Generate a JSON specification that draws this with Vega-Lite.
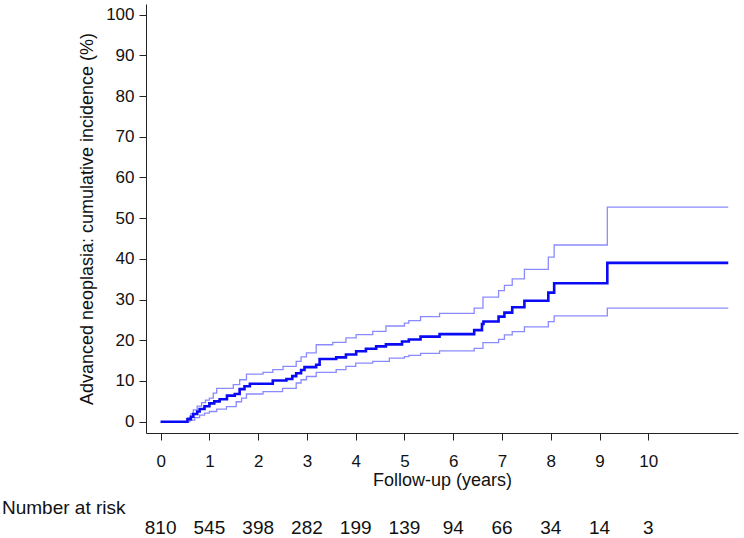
{
  "$schema": "https://vega.github.io/schema/vega-lite/v6.json",
  "padding": {"left": 2, "top": 4, "right": 6, "bottom": 0},
  "spacing": 10,
  "config": {
    "font": "Liberation Sans",
    "view": {"stroke": null},
    "axis": {"grid": false, "domainColor": "#222", "tickColor": "#222", "labelColor": "#111", "titleColor": "#111", "labelFont": "Liberation Sans", "titleFont": "Liberation Sans", "titleFontWeight": "normal"}
  },
  "datasets": {
    "curves": [
      {"t": 0, "series": "Estimate", "value": 0},
      {"t": 0.55, "series": "Estimate", "value": 0.6},
      {"t": 0.62, "series": "Estimate", "value": 1.2},
      {"t": 0.67, "series": "Estimate", "value": 1.9},
      {"t": 0.75, "series": "Estimate", "value": 2.5},
      {"t": 0.8, "series": "Estimate", "value": 3.1},
      {"t": 0.9, "series": "Estimate", "value": 3.8},
      {"t": 1.0, "series": "Estimate", "value": 4.5},
      {"t": 1.1, "series": "Estimate", "value": 5.0},
      {"t": 1.21, "series": "Estimate", "value": 5.5},
      {"t": 1.36, "series": "Estimate", "value": 6.4},
      {"t": 1.52, "series": "Estimate", "value": 6.8},
      {"t": 1.62, "series": "Estimate", "value": 8.0},
      {"t": 1.72, "series": "Estimate", "value": 8.7},
      {"t": 1.83, "series": "Estimate", "value": 9.3},
      {"t": 2.3, "series": "Estimate", "value": 10.1},
      {"t": 2.58, "series": "Estimate", "value": 10.5},
      {"t": 2.7, "series": "Estimate", "value": 11.2},
      {"t": 2.78, "series": "Estimate", "value": 11.9},
      {"t": 2.88, "series": "Estimate", "value": 12.7},
      {"t": 2.95, "series": "Estimate", "value": 13.4},
      {"t": 3.19, "series": "Estimate", "value": 14.0},
      {"t": 3.26, "series": "Estimate", "value": 15.4},
      {"t": 3.6, "series": "Estimate", "value": 15.8},
      {"t": 3.8, "series": "Estimate", "value": 16.5},
      {"t": 4.01, "series": "Estimate", "value": 17.3},
      {"t": 4.21, "series": "Estimate", "value": 17.9},
      {"t": 4.42, "series": "Estimate", "value": 18.5},
      {"t": 4.62, "series": "Estimate", "value": 19.0},
      {"t": 4.95, "series": "Estimate", "value": 19.7},
      {"t": 5.09, "series": "Estimate", "value": 20.2},
      {"t": 5.33, "series": "Estimate", "value": 20.9},
      {"t": 5.72, "series": "Estimate", "value": 21.5},
      {"t": 6.43, "series": "Estimate", "value": 22.5},
      {"t": 6.59, "series": "Estimate", "value": 24.0},
      {"t": 6.62, "series": "Estimate", "value": 24.6},
      {"t": 6.93, "series": "Estimate", "value": 25.8},
      {"t": 7.05, "series": "Estimate", "value": 26.8},
      {"t": 7.21, "series": "Estimate", "value": 28.1},
      {"t": 7.46, "series": "Estimate", "value": 29.7},
      {"t": 7.95, "series": "Estimate", "value": 31.7},
      {"t": 8.07, "series": "Estimate", "value": 34.0},
      {"t": 9.16, "series": "Estimate", "value": 39.0},
      {"t": 11.64, "series": "Estimate", "value": 39.0},
      {"t": 0, "series": "Upper", "value": 0},
      {"t": 0.55, "series": "Upper", "value": 1.0},
      {"t": 0.62, "series": "Upper", "value": 2.0},
      {"t": 0.67, "series": "Upper", "value": 2.9},
      {"t": 0.75, "series": "Upper", "value": 3.8},
      {"t": 0.84, "series": "Upper", "value": 4.7},
      {"t": 0.92, "series": "Upper", "value": 5.3},
      {"t": 1.0, "series": "Upper", "value": 5.8},
      {"t": 1.08, "series": "Upper", "value": 7.0},
      {"t": 1.15, "series": "Upper", "value": 8.2},
      {"t": 1.49, "series": "Upper", "value": 9.1},
      {"t": 1.62, "series": "Upper", "value": 10.3},
      {"t": 1.76, "series": "Upper", "value": 11.7},
      {"t": 2.1, "series": "Upper", "value": 12.1},
      {"t": 2.3, "series": "Upper", "value": 12.8},
      {"t": 2.51, "series": "Upper", "value": 13.6},
      {"t": 2.78, "series": "Upper", "value": 14.8},
      {"t": 2.88, "series": "Upper", "value": 15.9},
      {"t": 2.99, "series": "Upper", "value": 16.9},
      {"t": 3.19, "series": "Upper", "value": 18.9},
      {"t": 3.53, "series": "Upper", "value": 19.5},
      {"t": 3.8, "series": "Upper", "value": 20.6},
      {"t": 4.01, "series": "Upper", "value": 21.4},
      {"t": 4.35, "series": "Upper", "value": 22.2},
      {"t": 4.62, "series": "Upper", "value": 23.5},
      {"t": 5.0, "series": "Upper", "value": 24.2},
      {"t": 5.09, "series": "Upper", "value": 24.8},
      {"t": 5.33, "series": "Upper", "value": 25.8},
      {"t": 5.72, "series": "Upper", "value": 26.6},
      {"t": 6.43, "series": "Upper", "value": 27.9},
      {"t": 6.61, "series": "Upper", "value": 30.6},
      {"t": 6.93, "series": "Upper", "value": 32.2},
      {"t": 7.05, "series": "Upper", "value": 33.5},
      {"t": 7.21, "series": "Upper", "value": 35.1},
      {"t": 7.46, "series": "Upper", "value": 37.4},
      {"t": 7.95, "series": "Upper", "value": 40.4},
      {"t": 8.07, "series": "Upper", "value": 43.4},
      {"t": 9.16, "series": "Upper", "value": 52.7},
      {"t": 11.64, "series": "Upper", "value": 52.7},
      {"t": 0, "series": "Lower", "value": 0},
      {"t": 0.6, "series": "Lower", "value": 0.4},
      {"t": 0.7, "series": "Lower", "value": 1.0},
      {"t": 0.8, "series": "Lower", "value": 1.6},
      {"t": 0.9, "series": "Lower", "value": 2.1},
      {"t": 1.0, "series": "Lower", "value": 2.5},
      {"t": 1.15, "series": "Lower", "value": 3.1},
      {"t": 1.35, "series": "Lower", "value": 3.7},
      {"t": 1.55, "series": "Lower", "value": 4.9},
      {"t": 1.66, "series": "Lower", "value": 5.8},
      {"t": 1.76, "series": "Lower", "value": 6.8},
      {"t": 2.1, "series": "Lower", "value": 7.4},
      {"t": 2.5, "series": "Lower", "value": 8.2},
      {"t": 2.78, "series": "Lower", "value": 9.5},
      {"t": 2.88, "series": "Lower", "value": 10.3},
      {"t": 2.99, "series": "Lower", "value": 11.1},
      {"t": 3.19, "series": "Lower", "value": 12.1},
      {"t": 3.6, "series": "Lower", "value": 12.8},
      {"t": 3.8, "series": "Lower", "value": 13.6},
      {"t": 4.0, "series": "Lower", "value": 14.4},
      {"t": 4.35, "series": "Lower", "value": 14.8},
      {"t": 4.69, "series": "Lower", "value": 15.6},
      {"t": 5.0, "series": "Lower", "value": 16.0},
      {"t": 5.09, "series": "Lower", "value": 16.3},
      {"t": 5.33, "series": "Lower", "value": 16.8},
      {"t": 5.72, "series": "Lower", "value": 17.4},
      {"t": 6.43, "series": "Lower", "value": 18.0},
      {"t": 6.61, "series": "Lower", "value": 19.4},
      {"t": 6.93, "series": "Lower", "value": 20.2},
      {"t": 7.05, "series": "Lower", "value": 21.3},
      {"t": 7.21, "series": "Lower", "value": 22.1},
      {"t": 7.46, "series": "Lower", "value": 23.3},
      {"t": 7.95, "series": "Lower", "value": 24.6},
      {"t": 8.07, "series": "Lower", "value": 26.0},
      {"t": 9.16, "series": "Lower", "value": 27.9},
      {"t": 11.64, "series": "Lower", "value": 27.9}
    ],
    "risk": [
      {"t": 0, "n": 810},
      {"t": 1, "n": 545},
      {"t": 2, "n": 398},
      {"t": 3, "n": 282},
      {"t": 4, "n": 199},
      {"t": 5, "n": 139},
      {"t": 6, "n": 94},
      {"t": 7, "n": 66},
      {"t": 8, "n": 34},
      {"t": 9, "n": 14},
      {"t": 10, "n": 3}
    ]
  },
  "vconcat": [
    {
      "width": 592,
      "height": 429,
      "data": {"name": "curves"},
      "encoding": {
        "x": {
          "field": "t", "type": "quantitative",
          "scale": {"domain": [-0.3, 11.84], "nice": false, "zero": false},
          "axis": {"title": "Follow-up (years)", "values": [0,1,2,3,4,5,6,7,8,9,10], "tickSize": 7, "labelPadding": 13, "labelFontSize": 17, "titleFontSize": 18, "titlePadding": 2, "labelFlush": false}
        },
        "y": {
          "field": "value", "type": "quantitative",
          "scale": {"domain": [-2.78, 102.6], "nice": false, "zero": false},
          "axis": {"title": "Advanced neoplasia: cumulative incidence (%)", "values": [0,10,20,30,40,50,60,70,80,90,100], "tickSize": 7, "labelPadding": 5, "labelFontSize": 17, "titleFontSize": 18, "titlePadding": 9, "labelFlush": false}
        }
      },
      "layer": [
        {"transform": [{"filter": "datum.series === 'Upper'"}], "mark": {"type": "line", "interpolate": "step-after", "color": "#8a8aff", "strokeWidth": 1.3}},
        {"transform": [{"filter": "datum.series === 'Lower'"}], "mark": {"type": "line", "interpolate": "step-after", "color": "#8a8aff", "strokeWidth": 1.3}},
        {"transform": [{"filter": "datum.series === 'Estimate'"}], "mark": {"type": "line", "interpolate": "step-after", "color": "#0a0af5", "strokeWidth": 2.6}}
      ]
    },
    {
      "width": 592,
      "height": 10,
      "data": {"name": "risk"},
      "title": {"text": "Number at risk", "anchor": "start", "frame": "group", "dx": -144, "fontSize": 19, "fontWeight": "normal", "color": "#111", "baseline": "alphabetic", "offset": -14},
      "mark": {"type": "text", "fontSize": 19, "color": "#111", "align": "center", "baseline": "middle"},
      "encoding": {
        "x": {"field": "t", "type": "quantitative", "scale": {"domain": [-0.3, 11.84], "nice": false, "zero": false}, "axis": null},
        "text": {"field": "n", "type": "quantitative"}
      }
    }
  ]
}
